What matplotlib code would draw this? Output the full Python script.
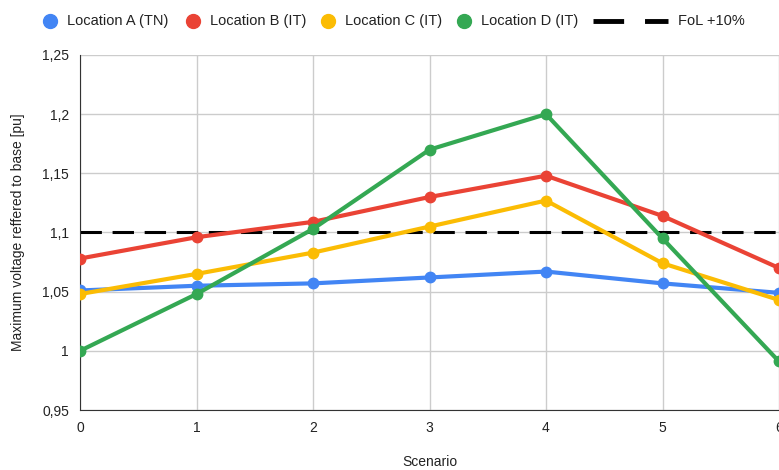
import matplotlib
matplotlib.use("Agg")
import matplotlib.pyplot as plt
from matplotlib.lines import Line2D

plt.rcParams['font.family'] = ['Liberation Sans', 'DejaVu Sans']

# data
scenarios = [0, 1, 2, 3, 4, 5, 6]
names = ["Location A (TN)", "Location B (IT)", "Location C (IT)", "Location D (IT)"]
loc_a = [1.051, 1.055, 1.057, 1.062, 1.067, 1.057, 1.049]
loc_b = [1.078, 1.096, 1.109, 1.130, 1.148, 1.114, 1.070]
loc_c = [1.048, 1.065, 1.083, 1.105, 1.127, 1.074, 1.043]
loc_d = [1.000, 1.048, 1.103, 1.170, 1.200, 1.095, 0.991]
fol = 1.1
fol_name = "FoL +10%"
yticks = [0.95, 1.0, 1.05, 1.1, 1.15, 1.2, 1.25]
ytick_labels = ["0,95", "1", "1,05", "1,1", "1,15", "1,2", "1,25"]

colors = ["#4285f4", "#ea4335", "#fbbc04", "#34a853"]
W, H = 779, 470

fig = plt.figure(figsize=(W / 100, H / 100), dpi=100)
ax = fig.add_axes([80 / W, 60 / H, 699 / W, 355 / H])

ax.axhline(fol, color="black", lw=2.2, dashes=(7, 3.5), zorder=2)

for vals, c in zip([loc_a, loc_b, loc_c, loc_d], colors):
    ax.plot(scenarios, vals, color=c, lw=3, marker="o", ms=7.5, zorder=3)

ax.set_xlim(0, 6)
ax.set_ylim(0.95, 1.25)
ax.set_xticks(scenarios)
ax.set_yticks(yticks)
ax.set_yticklabels(ytick_labels)
ax.grid(True, color="#cccccc", lw=1)
ax.set_axisbelow(True)
for s in ["top", "right"]:
    ax.spines[s].set_visible(False)
ax.spines["left"].set_color("#333333")
ax.spines["bottom"].set_color("#333333")
ax.tick_params(length=0, labelsize=10, colors="#222222", pad=8)

ax.set_xlabel("Scenario", fontsize=10, color="#222222", labelpad=14)
ax.set_ylabel("Maximum voltage reffered to base [pu]", fontsize=10,
              color="#222222", labelpad=12)

# legend drawn by hand (Sheets-style: round dots, short dashed stroke)
ly = 1 - 21 / H
dot_x = [50, 193, 328, 464]
for x, c, name in zip(dot_x, colors, names):
    fig.add_artist(Line2D([x / W], [ly], transform=fig.transFigure, ls="",
                          marker="o", ms=10, color=c))
    fig.text((x + 17) / W, ly, name, fontsize=10.5, color="#222222",
             va="center", ha="left")
fig.add_artist(Line2D([593 / W, 668 / W], [ly, ly], transform=fig.transFigure,
                      color="black", lw=3.5, dashes=(6.3, 4.3)))
fig.text(678 / W, ly, fol_name, fontsize=10.5, color="#222222",
         va="center", ha="left")

fig.savefig("out.png", dpi=100)
